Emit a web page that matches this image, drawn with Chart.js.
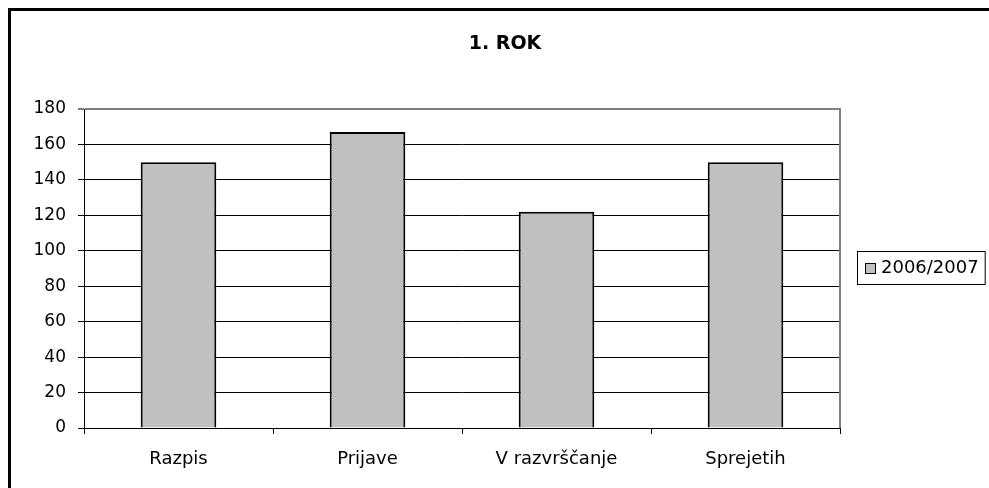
<!DOCTYPE html>
<html>
<head>
<meta charset="utf-8">
<script src="https://cdn.jsdelivr.net/npm/chart.js@4/dist/chart.umd.min.js"></script>
<style>
  html, body { margin: 0; padding: 0; background: #fff; }
  #wrap { position: relative; width: 989px; height: 488px; overflow: hidden; }
  #frame { position: absolute; left: 8px; top: 8px; width: 1000px; height: 500px;
           border-left: 3px solid #000; border-top: 3px solid #000; box-sizing: border-box; }
  canvas { position: absolute; left: 0; top: 0; }
</style>
</head>
<body>
<div id="wrap">
  <canvas id="c" width="989" height="488"></canvas>
  <div id="frame"></div>
</div>
<script>
const chartTitle = '1. ROK';
const categories = ['Razpis', 'Prijave', 'V razvrščanje', 'Sprejetih'];
const seriesLabel = '2006/2007';
const seriesValues = [150, 167, 122, 150];
const yMin = 0, yMax = 180, yStep = 20;

const FONT = '"DejaVu Sans", "Liberation Sans", Arial, sans-serif';

const decor = {
  id: 'decor',
  afterDraw(chart) {
    const ctx = chart.ctx;
    const a = chart.chartArea;
    ctx.save();
    // plot area right border (gray)
    ctx.strokeStyle = '#808080';
    ctx.lineWidth = 2;
    ctx.beginPath();
    ctx.moveTo(a.right, a.top - 1);
    ctx.lineTo(a.right, a.bottom);
    ctx.stroke();
    // title
    ctx.fillStyle = '#000';
    ctx.font = 'bold 19px ' + FONT;
    ctx.textAlign = 'center';
    ctx.textBaseline = 'middle';
    ctx.fillText(chartTitle, 505, 44);
    // legend box
    const ds = chart.data.datasets[0];
    ctx.font = '18px ' + FONT;
    const tw = ctx.measureText(ds.label).width;
    const bx = 857, by = 251, bh = 33;
    const bw = 24 + tw + 6;
    ctx.fillStyle = '#fff';
    ctx.fillRect(bx, by, bw, bh);
    ctx.strokeStyle = '#000';
    ctx.lineWidth = 1;
    ctx.strokeRect(bx + 0.5, by + 0.5, bw, bh);
    ctx.fillStyle = ds.backgroundColor;
    ctx.fillRect(bx + 8.5, by + 12.5, 10, 10);
    ctx.strokeRect(bx + 8.5, by + 12.5, 10, 10);
    ctx.fillStyle = '#000';
    ctx.textAlign = 'left';
    ctx.fillText(ds.label, bx + 24, by + bh / 2 + 1);
    ctx.restore();
  }
};

new Chart(document.getElementById('c'), {
  type: 'bar',
  data: {
    labels: categories,
    datasets: [{
      label: seriesLabel,
      data: seriesValues,
      backgroundColor: '#c0c0c0',
      borderColor: '#000',
      borderWidth: 2,
      barPercentage: 1,
      categoryPercentage: 0.4
    }]
  },
  options: {
    responsive: false,
    animation: false,
    devicePixelRatio: 1,
    layout: { padding: { left: 0, right: 149, top: 109, bottom: 0 } },
    plugins: { legend: { display: false }, title: { display: false }, tooltip: { enabled: false } },
    scales: {
      x: {
        offset: true,
        grid: { offset: true, drawOnChartArea: false, drawTicks: true, tickLength: 6, color: '#000', lineWidth: 1 },
        border: { display: true, color: '#000', width: 1 },
        ticks: { color: '#000', font: { family: FONT, size: 18 }, padding: 15, maxRotation: 0 },
        afterFit(s) { s.height = 60; }
      },
      y: {
        min: yMin, max: yMax,
        ticks: { stepSize: yStep, color: '#000', font: { family: FONT, size: 17 }, padding: 12 },
        grid: {
          color: (c) => (c.tick && c.tick.value === yMax) ? '#808080' : '#000',
          lineWidth: (c) => (c.tick && c.tick.value === yMax) ? 2 : 1,
          tickLength: 6, drawTicks: true
        },
        border: { display: true, color: '#000', width: 1 },
        afterFit(s) { s.width = 84; }
      }
    }
  },
  plugins: [decor]
});
</script>
</body>
</html>
